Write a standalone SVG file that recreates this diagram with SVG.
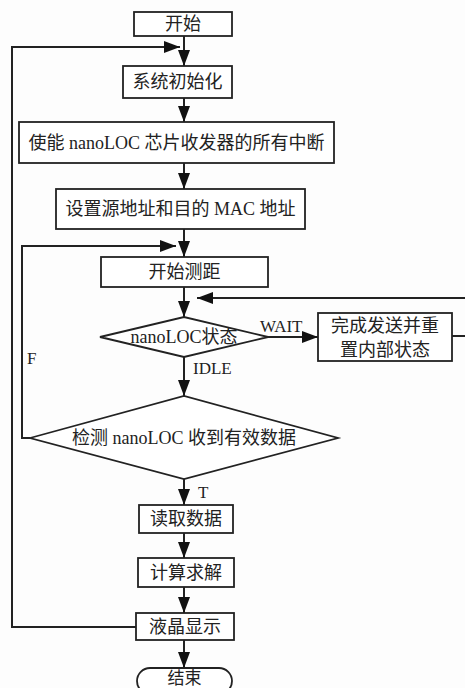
<svg xmlns="http://www.w3.org/2000/svg" width="465" height="688" viewBox="0 0 465 688">
<defs>
<marker id="ah" markerUnits="userSpaceOnUse" markerWidth="16" markerHeight="12" refX="16" refY="6" orient="auto">
<path d="M0,0 L16,6 L0,12 z" fill="#111"/>
</marker>
<style>
.box{fill:#fff;stroke:#222;stroke-width:1.8}
.ln{fill:none;stroke:#222;stroke-width:2}
.t{font-family:"Liberation Serif","Noto Sans CJK SC",serif;font-size:18px;fill:#222;text-anchor:middle}
.l{font-family:"Liberation Serif","Noto Sans CJK SC",serif;font-size:17px;fill:#222}
</style>
</defs>
<rect width="465" height="688" fill="#fdfdfd"/>
<g id="connectors">
<line class="ln" x1="184" y1="36" x2="184" y2="66" marker-end="url(#ah)"/>
<polyline class="ln" points="136,627 12,627 12,47 180,47" marker-end="url(#ah)"/>
<line class="ln" x1="184" y1="98" x2="184" y2="122" marker-end="url(#ah)"/>
<line class="ln" x1="184" y1="163" x2="184" y2="189" marker-end="url(#ah)"/>
<line class="ln" x1="184" y1="229" x2="184" y2="257" marker-end="url(#ah)"/>
<polyline class="ln" points="30,438 22,438 22,246 176,246" marker-end="url(#ah)"/>
<line class="ln" x1="184" y1="287" x2="184" y2="317" marker-end="url(#ah)"/>
<line class="ln" x1="465" y1="298" x2="197" y2="298" marker-end="url(#ah)"/>
<line class="ln" x1="268" y1="337" x2="318" y2="337" marker-end="url(#ah)"/>
<line class="ln" x1="452" y1="336" x2="465" y2="336"/>
<line class="ln" x1="184" y1="357" x2="184" y2="396" marker-end="url(#ah)"/>
<line class="ln" x1="184" y1="479" x2="184" y2="505" marker-end="url(#ah)"/>
<line class="ln" x1="184" y1="533" x2="184" y2="558" marker-end="url(#ah)"/>
<line class="ln" x1="184" y1="587" x2="184" y2="613" marker-end="url(#ah)"/>
<line class="ln" x1="184" y1="640" x2="184" y2="668" marker-end="url(#ah)"/>
<text class="l" x="260" y="332">WAIT</text>
<text class="l" x="27" y="364">F</text>
<text class="l" x="193" y="374">IDLE</text>
<text class="l" x="198" y="498">T</text>
</g>
<g id="start"><rect class="box" x="134" y="12" width="98" height="24"/><text class="t" x="183" y="30">开始</text></g>
<g id="init"><rect class="box" x="123" y="66" width="109" height="32"/><text class="t" x="177.5" y="88">系统初始化</text></g>
<g id="enable"><rect class="box" x="19" y="122" width="315" height="41"/><text class="t" x="176.5" y="149">使能 nanoLOC 芯片收发器的所有中断</text></g>
<g id="setaddr"><rect class="box" x="56" y="189" width="249" height="40"/><text class="t" x="180.5" y="215">设置源地址和目的 MAC 地址</text></g>
<g id="range"><rect class="box" x="101" y="257" width="167" height="30"/><text class="t" x="184.5" y="278">开始测距</text></g>
<g id="state"><polygon class="box" points="100,337 184,317 268,337 184,357"/><text class="t" x="184" y="343">nanoLOC状态</text></g>
<g id="reset"><rect class="box" x="318" y="313" width="134" height="48"/><text class="t" x="385" y="332">完成发送并重</text><text class="t" x="385" y="356">置内部状态</text></g>
<g id="check"><polygon class="box" points="30,438 184,396 338,438 184,479"/><text class="t" x="184" y="444">检测 nanoLOC 收到有效数据</text></g>
<g id="read"><rect class="box" x="139" y="505" width="94" height="28"/><text class="t" x="186" y="525">读取数据</text></g>
<g id="calc"><rect class="box" x="138" y="558" width="96" height="29"/><text class="t" x="186" y="579">计算求解</text></g>
<g id="lcd"><rect class="box" x="136" y="613" width="98" height="27"/><text class="t" x="185" y="633">液晶显示</text></g>
<g id="end"><rect class="box" x="137" y="668" width="95" height="26" rx="13" ry="13"/><text class="t" x="184.5" y="684" style="font-size:17px">结束</text></g>
</svg>
